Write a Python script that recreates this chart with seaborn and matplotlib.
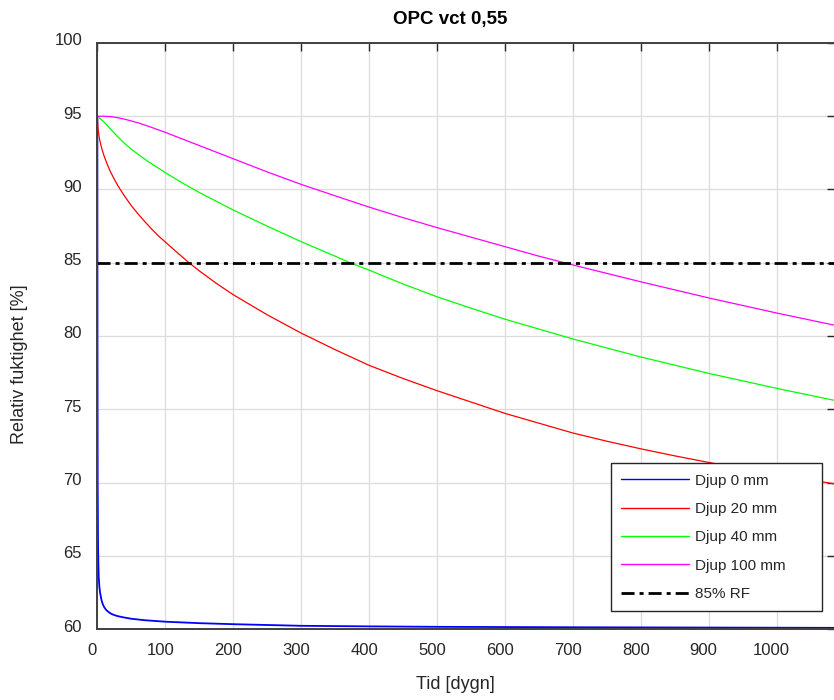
import matplotlib
matplotlib.use("Agg")
import matplotlib.pyplot as plt
import matplotlib.transforms as mtransforms
import seaborn as sns
import pandas as pd

# ---- data ----
title = "OPC vct 0,55"
x_label = "Tid [dygn]"
y_label = "Relativ fuktighet [%]"
x_ticks = [0, 100, 200, 300, 400, 500, 600, 700, 800, 900, 1000]
y_ticks = [60, 65, 70, 75, 80, 85, 90, 95, 100]

days_0 = [0, 0.2, 0.5, 1, 1.5, 2, 3, 4, 6, 8, 10, 13, 16, 20, 25, 30, 38, 50, 70, 100, 150, 200,
          300, 400, 500, 700, 900, 1086]
rf_0 = [95, 80, 70, 66, 64.5, 63.6, 62.9, 62.5, 62.0, 61.7, 61.5, 61.3, 61.18, 61.05, 60.95,
        60.88, 60.8, 60.7, 60.6, 60.5, 60.4, 60.33, 60.22, 60.18, 60.15, 60.12, 60.1, 60.08]

days_20 = [0, 1, 2, 3, 5, 7, 10, 15, 20, 25, 30, 40, 50, 60, 70, 80, 90, 100, 120, 135, 150, 175,
           200, 250, 300, 350, 400, 450, 500, 600, 700, 750, 800, 850, 900, 950, 1000, 1086]
rf_20 = [95, 94.15, 93.8, 93.5, 93.07, 92.72, 92.28, 91.67, 91.15, 90.7, 90.28, 89.55, 88.9,
         88.33, 87.8, 87.3, 86.83, 86.42, 85.6, 85.0, 84.45, 83.6, 82.82, 81.45, 80.2, 79.07,
         78.0, 77.1, 76.27, 74.72, 73.38, 72.82, 72.3, 71.82, 71.37, 70.95, 70.55, 69.9]

days_40 = [0, 10, 20, 30, 40, 50, 60, 75, 100, 125, 150, 200, 250, 300, 350, 372, 400, 450, 500,
           550, 600, 700, 800, 900, 1000, 1086]
rf_40 = [95, 94.6, 94.1, 93.6, 93.15, 92.75, 92.4, 91.9, 91.15, 90.45, 89.8, 88.6, 87.5, 86.44,
         85.45, 85.0, 84.5, 83.55, 82.68, 81.9, 81.15, 79.8, 78.57, 77.45, 76.43, 75.6]

days_100 = [0, 10, 20, 30, 40, 50, 60, 75, 100, 125, 150, 200, 250, 300, 350, 400, 450, 500, 550,
            600, 650, 700, 800, 900, 1000, 1086]
rf_100 = [95, 95, 94.97, 94.9, 94.8, 94.68, 94.55, 94.32, 93.9, 93.45, 93.0, 92.1, 91.2, 90.35,
          89.57, 88.8, 88.08, 87.4, 86.75, 86.1, 85.45, 84.85, 83.7, 82.6, 81.57, 80.73]

ref_days = [0, 1086]
ref_rf = [85, 85]

series = [
    ("Djup 0 mm", days_0, rf_0, "#0000ff", 1.3),
    ("Djup 20 mm", days_20, rf_20, "#ff0000", 0.9),
    ("Djup 40 mm", days_40, rf_40, "#00ff00", 0.9),
    ("Djup 100 mm", days_100, rf_100, "#ff00ff", 0.9),
]

sns.set_style("white")
plt.rcParams["font.family"] = ["Liberation Sans", "DejaVu Sans"]
dark = "#262626"

fig = plt.figure(figsize=(8.34, 7.0), dpi=100)
ax = fig.add_axes([0.1167, 0.1014, 0.8845, 0.8372])

for name, d, v, c, lw in series:
    df = pd.DataFrame({"Tid": d, "RF": v})
    sns.lineplot(data=df, x="Tid", y="RF", ax=ax, color=c, lw=lw, label=name,
                 sort=False, estimator=None)

df_ref = pd.DataFrame({"Tid": ref_days, "RF": ref_rf})
sns.lineplot(data=df_ref, x="Tid", y="RF", ax=ax, color="black", lw=2.0,
             label="85% RF", sort=False, estimator=None)
ax.lines[-1].set_dashes([4.7, 1.8, 1.45, 1.8])

ax.set_xlim(0, 1086)
ax.set_ylim(60, 100)
ax.set_xticks(x_ticks)
ax.set_yticks(y_ticks)
ax.set_xticklabels([str(t) for t in x_ticks])
ax.set_yticklabels([str(t) for t in y_ticks])
ax.grid(True, color="#dcdcdc", lw=0.9)
ax.set_axisbelow(True)
ax.tick_params(direction="in", length=6, width=1.0, color=dark, labelcolor=dark,
               labelsize=12, top=True, right=True)
ax.tick_params(axis="y", pad=11)
ax.tick_params(axis="x", pad=10)
for s in ax.spines.values():
    s.set_color("#404040")
    s.set_linewidth(1.4)

# small label offsets as in the reference rendering
dx = mtransforms.ScaledTranslation(-5 / 100, 0, fig.dpi_scale_trans)
for lab in ax.get_xticklabels():
    lab.set_transform(lab.get_transform() + dx)
dy = mtransforms.ScaledTranslation(0, 3.5 / 100, fig.dpi_scale_trans)
for lab in ax.get_yticklabels():
    lab.set_transform(lab.get_transform() + dy)

ax.set_xlabel(x_label, fontsize=13, color=dark)
ax.xaxis.set_label_coords(0.485, -0.08)
ax.set_ylabel(y_label, fontsize=13, color=dark)
ax.yaxis.set_label_coords(-0.094, 0.452)
ax.set_title(title, fontsize=13.5, fontweight="bold", color="black", x=0.478, pad=14)

leg = ax.legend(loc="lower left", bbox_to_anchor=(0.696, 0.0307, 0.286, 0.25),
                mode="expand", borderaxespad=0,
                fontsize=11, frameon=True, fancybox=False, edgecolor="#262626",
                framealpha=1.0, facecolor="white",
                handlelength=4.45, handletextpad=0.4, labelspacing=0.94,
                borderpad=0.66)
leg.get_frame().set_linewidth(1.0)
for t in leg.get_texts():
    t.set_color(dark)
for ln in leg.get_lines()[:4]:
    ln.set_linewidth(1.0)

fig.savefig("out.png", dpi=100)
